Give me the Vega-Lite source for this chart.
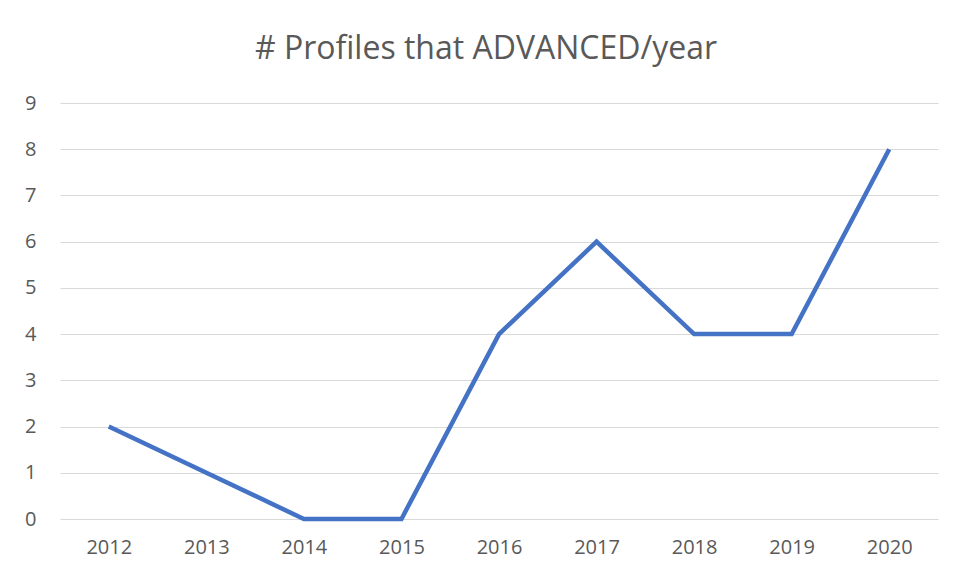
{
  "$schema": "https://vega.github.io/schema/vega-lite/v6.json",
  "autosize": {"type": "none"},
  "width": 878,
  "height": 416,
  "padding": {"left": 60, "top": 103, "right": 19, "bottom": 59},
  "background": "white",
  "title": {
    "text": "# Profiles that ADVANCED/year",
    "fontSize": 32,
    "font": "Open Sans",
    "fontWeight": "normal",
    "color": "#595959",
    "anchor": "middle",
    "offset": 27,
    "dx": -13
  },
  "data": {
    "values": [
      {"year": "2012", "count": 2},
      {"year": "2013", "count": 1},
      {"year": "2014", "count": 0},
      {"year": "2015", "count": 0},
      {"year": "2016", "count": 4},
      {"year": "2017", "count": 6},
      {"year": "2018", "count": 4},
      {"year": "2019", "count": 4},
      {"year": "2020", "count": 8}
    ]
  },
  "mark": {"type": "line", "color": "#4472C4", "strokeWidth": 4.5, "strokeJoin": "miter"},
  "encoding": {
    "x": {
      "field": "year",
      "type": "ordinal",
      "scale": {"type": "point", "padding": 0.5},
      "axis": {
        "title": null,
        "labelAngle": 0,
        "domain": false,
        "ticks": false,
        "grid": false,
        "labelFont": "Open Sans",
        "labelFontSize": 20,
        "labelColor": "#595959",
        "labelPadding": 18
      }
    },
    "y": {
      "field": "count",
      "type": "quantitative",
      "scale": {"domain": [0, 9], "nice": false},
      "axis": {
        "title": null,
        "values": [0, 1, 2, 3, 4, 5, 6, 7, 8, 9],
        "domain": false,
        "ticks": false,
        "gridColor": "#d9d9d9",
        "gridWidth": 1.2,
        "labelFont": "Open Sans",
        "labelFontSize": 20,
        "labelColor": "#595959",
        "labelPadding": 24
      }
    }
  },
  "config": {"view": {"stroke": null}}
}
